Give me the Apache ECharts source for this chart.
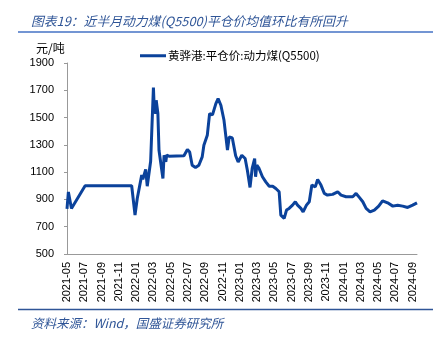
<!DOCTYPE html>
<html><head><meta charset="utf-8">
<script src="https://cdn.jsdelivr.net/npm/echarts@6/dist/echarts.min.js"></script>
<style>html,body{margin:0;padding:0;background:#fff}#c{width:437px;height:337px}</style>
</head><body><div id="c"></div>
<script>
const dates = ["2021-05-01","2021-05-06","2021-05-12","2021-05-17","2021-07-04","2021-12-16","2021-12-28","2022-01-05","2022-01-21","2022-01-25","2022-02-04","2022-02-09","2022-02-20","2022-03-01","2022-03-04","2022-03-09","2022-03-11","2022-03-15","2022-03-17","2022-03-21","2022-03-28","2022-04-04","2022-04-08","2022-04-14","2022-04-17","2022-04-25","2022-06-17","2022-06-23","2022-06-29","2022-07-07","2022-07-16","2022-07-28","2022-08-09","2022-08-21","2022-08-27","2022-09-08","2022-09-16","2022-09-26","2022-10-08","2022-10-16","2022-10-26","2022-11-06","2022-11-18","2022-11-24","2022-12-05","2022-12-17","2022-12-26","2023-01-08","2023-01-20","2023-01-28","2023-02-06","2023-02-13","2023-02-21","2023-02-24","2023-02-28","2023-03-08","2023-03-20","2023-04-01","2023-04-13","2023-04-25","2023-05-06","2023-05-18","2023-05-24","2023-06-05","2023-06-13","2023-06-22","2023-07-04","2023-07-14","2023-07-22","2023-08-03","2023-08-11","2023-08-23","2023-09-02","2023-09-11","2023-09-23","2023-10-01","2023-10-13","2023-10-25","2023-11-05","2023-11-23","2023-12-11","2023-12-23","2024-01-10","2024-02-03","2024-02-14","2024-02-25","2024-03-08","2024-03-20","2024-04-03","2024-04-18","2024-05-03","2024-05-17","2024-06-04","2024-06-22","2024-07-09","2024-07-27","2024-08-14","2024-09-01","2024-09-16"];
const prices = [830,955,950,834,1000,1000,785,907,1078,1048,1120,997,1180,1720,1566,1529,1627,1627,1530,1261,1255,1054,1224,1175,1224,1217,1220,1224,1266,1248,1151,1134,1151,1212,1297,1370,1529,1520,1602,1639,1590,1480,1261,1358,1350,1220,1175,1224,1200,1114,988,1127,1200,1066,1151,1127,1066,1029,997,997,980,956,785,761,822,834,858,883,858,834,809,858,883,1005,992,1046,1005,944,932,937,956,932,920,920,944,915,883,834,809,822,851,890,875,851,858,851,841,858,875];
const seriesName = "黄骅港:平仓价:动力煤(Q5500)";
const titleText = "图表19：近半月动力煤(Q5500)平仓价均值环比有所回升";
const unitText = "元/吨";
const sourceText = "资料来源：Wind，国盛证券研究所";
const yTicks = [500,700,900,1100,1300,1500,1700,1900];

function monthIndex(s){
  const [y,m,d] = s.split('-').map(Number);
  const dim = new Date(y, m, 0).getDate();
  return (y-2021)*12 + (m-5) + (d-1)/dim;
}
function monthLabel(v){
  if (Math.abs(v - Math.round(v)) > 1e-6 || Math.round(v) % 2 !== 0) return '';
  const k = Math.round(v) + 4;
  const y = 2021 + Math.floor(k/12);
  const m = k % 12 + 1;
  return y + '-' + (m < 10 ? '0' + m : m);
}
const data = dates.map((d,i)=>[monthIndex(d), prices[i]]);

const chart = echarts.init(document.getElementById('c'), null, {renderer:'canvas'});
const blue = '#2F5597';
chart.setOption({
  animation:false,
  backgroundColor:'#fff',
  title:[
    {text:titleText, left:26, top:10, textStyle:{fontFamily:"'Noto Sans CJK SC'", fontStyle:'italic', fontWeight:'normal', fontSize:12.8, color:blue}},
    {text:unitText, left:31, top:37, textStyle:{fontFamily:"'Noto Sans CJK SC'", fontWeight:'normal', fontSize:12, color:'#000'}},
    {text:sourceText, left:26, top:312, textStyle:{fontFamily:"'Noto Sans CJK SC'", fontStyle:'italic', fontWeight:'normal', fontSize:12.5, color:blue}}
  ],
  graphic:[
    {type:'line', shape:{x1:18,y1:32,x2:433,y2:32}, style:{stroke:'#4472C4', lineWidth:1.5}},
    {type:'line', shape:{x1:18,y1:309.5,x2:433,y2:309.5}, style:{stroke:'#2F5597', lineWidth:1.5}}
  ],
  legend:{
    left:135, top:45, itemWidth:26, itemHeight:3, icon:'rect',
    textStyle:{fontFamily:"'Noto Sans CJK SC','Liberation Sans'", fontSize:11.5, color:'#000', padding:[0,0,0,-3]},
    data:[seriesName]
  },
  grid:{left:67, right:20, top:63, bottom:83},
  xAxis:{
    type:'value', min:0, max:40.5, interval:2,
    axisLine:{show:true, lineStyle:{color:'#999', width:1}},
    axisTick:{show:false},
    splitLine:{show:false},
    axisLabel:{rotate:90, margin:8, fontFamily:"'Liberation Sans'", fontSize:11, color:'#000', formatter:monthLabel, showMaxLabel:false}
  },
  yAxis:{
    type:'value', min:500, max:1900, interval:200,
    axisLine:{show:true, lineStyle:{color:'#999', width:1}},
    axisTick:{show:true, length:3, lineStyle:{color:'#999'}},
    splitLine:{show:false},
    axisLabel:{margin:13, fontFamily:"'Liberation Sans'", fontSize:11, color:'#000',
      formatter:v=> yTicks.indexOf(v) >= 0 ? String(v) : ''}
  },
  series:[{
    name:seriesName, type:'line', data:data, showSymbol:false, symbol:'none',
    lineStyle:{color:'#0B429B', width:3}, itemStyle:{color:'#0B429B'}
  }]
});
</script></body></html>
